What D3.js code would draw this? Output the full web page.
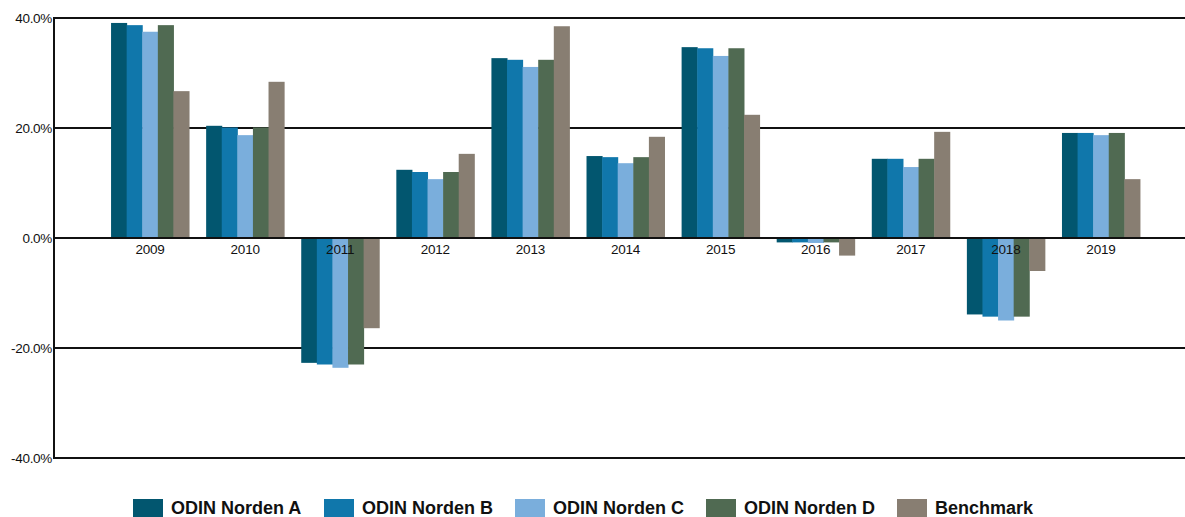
<!DOCTYPE html>
<html>
<head>
<meta charset="utf-8">
<script src="https://cdn.jsdelivr.net/npm/d3@7"></script>
<style>
  html, body { margin: 0; padding: 0; background: #fff; }
  svg { display: block; font-family: "Liberation Sans", Arial, sans-serif; }
</style>
</head>
<body>
<div class="chart"></div>
<script>
// Data
var years = ["2009", "2010", "2011", "2012", "2013", "2014", "2015", "2016", "2017", "2018", "2019"];
var seriesNames = ["ODIN Norden A", "ODIN Norden B", "ODIN Norden C", "ODIN Norden D", "Benchmark"];
var seriesColors = ["#02566f", "#1077ab", "#7aaedc", "#506a52", "#887e72"];
var nordenA = [39.1, 20.4, -22.7, 12.4, 32.7, 14.9, 34.7, -0.8, 14.4, -13.9, 19.1];
var nordenB = [38.7, 20.1, -23.0, 12.0, 32.4, 14.7, 34.5, -0.8, 14.4, -14.3, 19.1];
var nordenC = [37.5, 18.7, -23.6, 10.7, 31.1, 13.6, 33.1, -0.9, 12.9, -15.0, 18.7];
var nordenD = [38.7, 20.1, -23.0, 12.0, 32.4, 14.7, 34.5, -0.8, 14.4, -14.3, 19.1];
var benchmark = [26.7, 28.4, -16.4, 15.3, 38.5, 18.4, 22.4, -3.2, 19.3, -6.0, 10.7];
var yTicks = [-40, -20, 0, 20, 40];

var allSeries = [nordenA, nordenB, nordenC, nordenD, benchmark];

document.addEventListener("DOMContentLoaded", function () {
    var w = 1185;
    var h = 517;

    var svg = d3.select(".chart")
        .append("svg")
        .attr("width", w)
        .attr("height", h);

    var x0 = d3.scaleBand()
        .domain(years)
        .range([54, 1197])
        .paddingInner(0.18)
        .paddingOuter(0.6);

    var x1 = d3.scaleBand()
        .domain(seriesNames)
        .range([0, x0.bandwidth()]);

    var y = d3.scaleLinear()
        .domain([-40, 40])
        .range([458, 18]);

    // gridlines (behind bars)
    svg.append("g")
        .selectAll("line")
        .data(yTicks.filter(function (t) { return t !== 0; }))
        .enter()
        .append("line")
        .attr("x1", 54)
        .attr("x2", w)
        .attr("y1", function (d) { return y(d); })
        .attr("y2", function (d) { return y(d); })
        .attr("stroke", "#111")
        .attr("stroke-width", 2);

    // y labels
    svg.append("g")
        .selectAll("text")
        .data(yTicks)
        .enter()
        .append("text")
        .attr("x", 52)
        .attr("y", function (d) { return y(d) + 5; })
        .attr("text-anchor", "end")
        .attr("font-size", "13.5px")
        .attr("letter-spacing", "-0.3px")
        .attr("fill", "#111")
        .text(function (d) { return d.toFixed(1) + "%"; });

    // bars
    var groups = svg.append("g")
        .selectAll("g")
        .data(years)
        .enter()
        .append("g")
        .attr("transform", function (d) { return "translate(" + x0(d) + ",0)"; });

    groups.selectAll("rect")
        .data(function (d, i) {
            return allSeries.map(function (s, j) {
                return { name: seriesNames[j], color: seriesColors[j], value: s[i] };
            });
        })
        .enter()
        .append("rect")
        .attr("x", function (d) { return x1(d.name); })
        .attr("width", x1.bandwidth() + 0.5)
        .attr("y", function (d) { return y(Math.max(0, d.value)); })
        .attr("height", function (d) { return Math.abs(y(d.value) - y(0)); })
        .attr("fill", function (d) { return d.color; });

    // left axis line
    svg.append("line")
        .attr("x1", 54).attr("x2", 54)
        .attr("y1", y(40) - 1).attr("y2", y(-40) + 1)
        .attr("stroke", "#111")
        .attr("stroke-width", 2);

    // zero line on top
    svg.append("line")
        .attr("x1", 54).attr("x2", w)
        .attr("y1", y(0)).attr("y2", y(0))
        .attr("stroke", "#111")
        .attr("stroke-width", 2);

    // year labels
    svg.append("g")
        .selectAll("text")
        .data(years)
        .enter()
        .append("text")
        .attr("x", function (d) { return x0(d) + x0.bandwidth() / 2; })
        .attr("y", y(0) + 16)
        .attr("text-anchor", "middle")
        .attr("font-size", "13.5px")
        .attr("letter-spacing", "-0.2px")
        .attr("fill", "#111")
        .text(function (d) { return d; });

    // legend
    var legend = svg.append("g")
        .selectAll("g")
        .data(seriesNames)
        .enter()
        .append("g")
        .attr("transform", function (d, i) { return "translate(" + (133 + i * 191) + ",499)"; });

    legend.append("rect")
        .attr("width", 30)
        .attr("height", 20)
        .attr("fill", function (d, i) { return seriesColors[i]; });

    legend.append("text")
        .attr("x", 38)
        .attr("y", 15)
        .attr("font-size", "18px")
        .attr("font-weight", "bold")
        .attr("fill", "#111")
        .text(function (d) { return d; });
});
</script>
</body>
</html>
